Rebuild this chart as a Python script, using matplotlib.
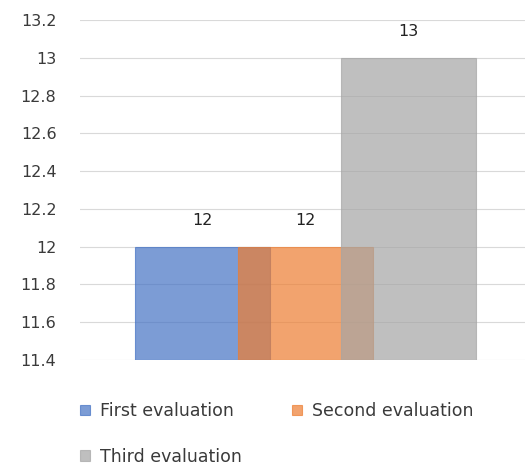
import matplotlib
matplotlib.use("Agg")
import matplotlib.pyplot as plt
import numpy as np

SERIES = ["First evaluation", "Second evaluation", "Third evaluation"]
VALUES = [12, 12, 13]
COLORS = ["#4472C4", "#ED7D31", "#A5A5A5"]

YMIN, YMAX, YSTEP = 11.4, 13.2, 0.2
TEXT = "#3A3A3A"

fig = plt.figure(figsize=(5.25, 4.7), dpi=100)
ax = fig.add_axes([80 / 525, 1 - 360 / 470, 445 / 525, 340 / 470])

offsets = np.arange(len(SERIES)) - 1
width = 1.31
handles = []
for off, v, c, name in zip(offsets, VALUES, COLORS, SERIES):
    b = ax.bar(off, v - YMIN, width, bottom=YMIN, color=c, alpha=0.7,
               edgecolor=c, linewidth=0.8, label=name, zorder=2)
    handles.append(b)
    ax.text(off, v + 0.14, f"{v}", ha="center", va="center",
            fontsize=11.5, color="#222222")

ax.set_xlim(-2.19, 2.13)
ax.set_ylim(YMIN, YMAX)
yt = np.round(np.arange(YMIN, YMAX + 1e-9, YSTEP), 1)
ax.set_yticks(yt)
ax.set_yticklabels([f"{t:g}" for t in yt])
ax.set_xticks([])
ax.tick_params(axis="y", length=0, labelsize=11.5, labelcolor=TEXT, pad=17)
for s in ax.spines.values():
    s.set_visible(False)
ax.yaxis.grid(True, color="#D9D9D9", linewidth=0.8)
ax.set_axisbelow(True)

# row-major order for a 2-column legend
order = [0, 2, 1]
leg = fig.legend([handles[i] for i in order], [SERIES[i] for i in order],
                 loc="upper left", bbox_to_anchor=(80 / 525, 1 - 402 / 470),
                 ncol=2, frameon=False, fontsize=12.5, labelcolor=TEXT,
                 handlelength=0.55, handleheight=0.55, handletextpad=0.6,
                 columnspacing=2.9, labelspacing=1.6, borderpad=0,
                 borderaxespad=0)

fig.savefig("out.png", dpi=100)
